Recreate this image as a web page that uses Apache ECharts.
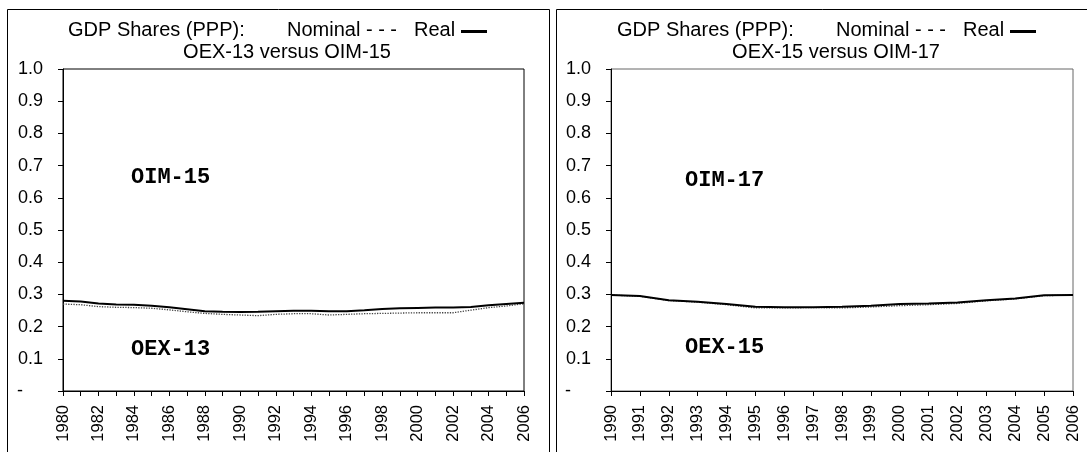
<!DOCTYPE html>
<html>
<head>
<meta charset="utf-8">
<script src="https://cdn.jsdelivr.net/npm/echarts@6/dist/echarts.min.js"></script>
<style>html,body{margin:0;padding:0;background:#fff;}#c{width:1087px;height:452px;}</style>
</head>
<body>
<div id="c"></div>
<script>
var yearsA = ['1980','1981','1982','1983','1984','1985','1986','1987','1988','1989','1990','1991','1992','1993','1994','1995','1996','1997','1998','1999','2000','2001','2002','2003','2004','2005','2006'];
var realA = [0.280,0.278,0.272,0.269,0.268,0.265,0.260,0.254,0.248,0.246,0.245,0.246,0.248,0.249,0.249,0.248,0.248,0.251,0.255,0.257,0.258,0.259,0.259,0.261,0.266,0.270,0.274];
var nominalA = [0.270,0.268,0.262,0.260,0.259,0.257,0.252,0.246,0.241,0.238,0.236,0.234,0.238,0.240,0.240,0.236,0.238,0.240,0.241,0.242,0.243,0.243,0.243,0.251,0.259,0.264,0.271];
var yearsB = ['1990','1991','1992','1993','1994','1995','1996','1997','1998','1999','2000','2001','2002','2003','2004','2005','2006'];
var realB = [0.298,0.295,0.282,0.277,0.270,0.262,0.260,0.260,0.262,0.265,0.270,0.272,0.275,0.282,0.287,0.297,0.298];
var nominalB = [0.298,0.294,0.281,0.276,0.268,0.258,0.258,0.259,0.258,0.261,0.265,0.268,0.272,0.280,0.286,0.296,0.298];
var titleLine1 = ['GDP Shares (PPP):', 'Nominal - - -', 'Real'];
var subtitleA = 'OEX-13 versus OIM-15';
var subtitleB = 'OEX-15 versus OIM-17';
var labelsA = ['OIM-15', 'OEX-13'];
var labelsB = ['OIM-17', 'OEX-15'];

var chart = echarts.init(document.getElementById('c'));
var F = 'Arial, "Liberation Sans", sans-serif';
var MONO = '"Courier New", "Liberation Mono", monospace';
var tStyle = {fontFamily: F, fontSize: 20, fontWeight: 'normal', color: '#000'};

function titles(dx, sub) {
  return [
    {text: titleLine1[0], left: 68 + dx, top: 20, padding: 0, textStyle: tStyle},
    {text: titleLine1[1], left: 287 + dx, top: 20, padding: 0, textStyle: tStyle},
    {text: titleLine1[2], left: 414 + dx, top: 20, padding: 0, textStyle: tStyle},
    {text: sub, left: 287 + dx, textAlign: 'center', top: 42, padding: 0, textStyle: tStyle}
  ];
}
function yAx(idx) {
  return {
    type: 'value', gridIndex: idx, min: 0, max: 1, interval: 0.1,
    axisLine: {show: true, lineStyle: {color: '#000', width: 1}},
    axisTick: {show: true, length: 5, lineStyle: {color: '#000'}},
    splitLine: {show: false},
    axisLabel: {margin: 20, fontFamily: F, fontSize: 18, color: '#000',
      formatter: function (v) { return v === 0 ? '-    ' : v.toFixed(1); }}
  };
}
function xAx(idx, data, labInt) {
  return {
    type: 'category', gridIndex: idx, data: data, boundaryGap: false,
    axisLine: {show: true, lineStyle: {color: '#000', width: 1}},
    axisTick: {show: true, length: 5, interval: 0, alignWithLabel: true, lineStyle: {color: '#000'}},
    axisLabel: {interval: labInt, rotate: 90, margin: 14, fontFamily: F, fontSize: 16.5, color: '#000'}
  };
}
function annot(x, y, t) {
  return {type: 'text', left: x, top: y, style: {text: t, font: 'bold 22px ' + MONO, fill: '#000'}};
}
function legendDash(dx) {
  return {type: 'line', shape: {x1: 461 + dx, y1: 31.5, x2: 487 + dx, y2: 31.5}, style: {stroke: '#000', lineWidth: 3}, silent: true};
}

chart.setOption({
  animation: false,
  backgroundColor: '#fff',
  title: titles(0, subtitleA).concat(titles(549, subtitleB)),
  grid: [
    {left: 63, top: 69, width: 461, height: 322, show: true, borderColor: '#000', borderWidth: 1, containLabel: false},
    {left: 611, top: 69, width: 462, height: 322, show: true, borderColor: '#666', borderWidth: 1, containLabel: false}
  ],
  xAxis: [xAx(0, yearsA, 1), xAx(1, yearsB, 0)],
  yAxis: [yAx(0), yAx(1)],
  series: [
    {type: 'line', xAxisIndex: 0, yAxisIndex: 0, data: nominalA, symbol: 'none', lineStyle: {color: '#444', width: 1.3, type: 'dotted'}},
    {type: 'line', xAxisIndex: 0, yAxisIndex: 0, data: realA, symbol: 'none', lineStyle: {color: '#000', width: 2}},
    {type: 'line', xAxisIndex: 1, yAxisIndex: 1, data: nominalB, symbol: 'none', lineStyle: {color: '#444', width: 1.3, type: 'dotted'}},
    {type: 'line', xAxisIndex: 1, yAxisIndex: 1, data: realB, symbol: 'none', lineStyle: {color: '#000', width: 2}}
  ],
  graphic: [
    {type: 'rect', shape: {x: 7.5, y: 9.5, width: 542, height: 460}, style: {fill: 'none', stroke: '#000', lineWidth: 1}, silent: true},
    {type: 'rect', shape: {x: 556.5, y: 9.5, width: 540, height: 460}, style: {fill: 'none', stroke: '#000', lineWidth: 1}, silent: true},
    legendDash(0),
    legendDash(549),
    annot(131, 166, labelsA[0]),
    annot(131, 338, labelsA[1]),
    annot(685, 169, labelsB[0]),
    annot(685, 336, labelsB[1])
  ]
});
</script>
</body>
</html>
